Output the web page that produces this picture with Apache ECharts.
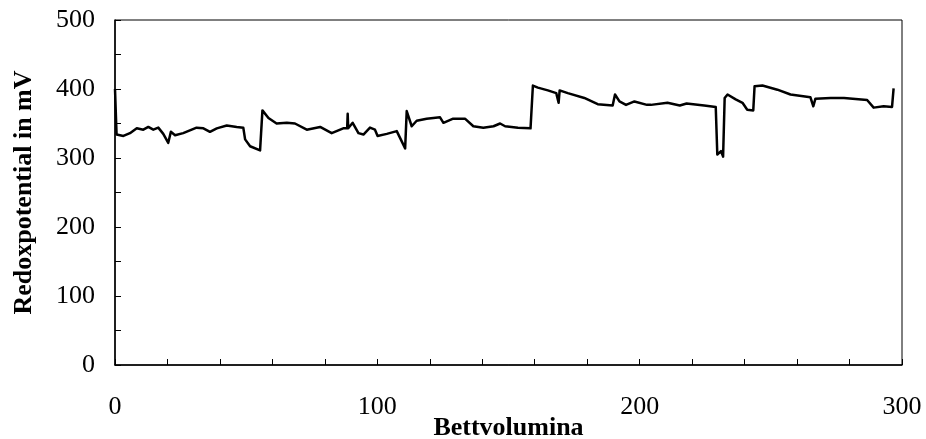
<!DOCTYPE html>
<html>
<head>
<meta charset="utf-8">
<script src="https://cdn.jsdelivr.net/npm/echarts@6/dist/echarts.min.js"></script>
<style>
  html, body { margin: 0; padding: 0; background: #fff; }
  #chart { width: 926px; height: 439px; }
</style>
</head>
<body>
<div id="chart"></div>
<script>
// Bed volumes passed through the column
const bedVolumes = [
  0, 0.6, 3.2, 5.7, 8.3, 10.8, 12.7, 14.6, 16.5, 18.4, 20.3, 21.3, 22.9, 26,
  31.1, 33.7, 36.2, 38.8, 42.6, 46.4, 48.9, 49.6, 51.5, 55.3, 56.2, 58.5, 61.6,
  65.5, 68.6, 73.1, 78.2, 82.6, 87, 88.5, 88.7, 88.9, 90.6, 92.8, 94.7, 97.2,
  99.1, 100.1, 103.6, 107.4, 110.6, 111.2, 113.1, 115, 118.8, 123.9, 125.2,
  128.9, 133.4, 136.6, 140.4, 144.3, 146.8, 148.7, 153.6, 158.4, 159.3, 161.2,
  165, 168.2, 169.1, 169.5, 172.6, 178.9, 184, 189.7, 190.6, 192.3, 194.8,
  198, 202.8, 204.3, 210.6, 215.3, 217.9, 224.6, 229, 229.6, 231, 231.8,
  232.4, 233.5, 236.6, 239.2, 241, 243.3, 243.8, 246.8, 252.5, 257.5, 265.1,
  266.2, 267, 272.8, 277.9, 286.7, 289.2, 293, 296.2, 296.8
];
// Measured redox potential (mV)
const redoxMv = [
  400, 334, 332, 336, 343, 341, 345, 341, 344, 335, 322, 338, 333, 336,
  344, 343, 338, 343, 347, 345, 344, 327, 317, 311, 369, 358, 350,
  351, 350, 341, 345, 336, 343, 343, 364, 343, 351, 336, 334, 344,
  341, 332, 335, 339, 314, 368, 346, 354, 357, 359, 351,
  357, 357, 346, 344, 346, 350, 346, 344, 343, 405, 402,
  398, 394, 380, 398, 394, 387, 378, 376, 392, 382, 377,
  382, 377, 377, 380, 376, 379, 376, 374, 305, 310, 302,
  387, 392, 385, 380, 370, 369, 404, 405, 399, 392, 388,
  375, 386, 387, 387, 384, 373, 375, 374, 401
];
const xTicks = [0, 100, 200, 300];
const yTicks = [0, 100, 200, 300, 400, 500];

const seriesData = bedVolumes.map((v, i) => [v, redoxMv[i]]);
const serif = '"Liberation Serif", "Times New Roman", serif';

const chart = echarts.init(document.getElementById('chart'), null, { renderer: 'canvas' });
chart.setOption({
  animation: false,
  grid: {
    left: 115, right: 24, top: 20, bottom: 74,
    outerBoundsMode: 'none',
    show: true, borderColor: '#000', borderWidth: 1, backgroundColor: 'transparent'
  },
  xAxis: {
    type: 'value',
    min: xTicks[0], max: xTicks[xTicks.length - 1], interval: 100,
    name: 'Bettvolumina', nameLocation: 'middle', nameGap: 50,
    nameMoveOverlap: false,
    nameTextStyle: { fontFamily: serif, fontWeight: 'bold', fontSize: 26, color: '#000' },
    axisLine: { show: true, lineStyle: { color: '#000', width: 1.5 } },
    axisTick: { show: true, inside: true, length: 6, lineStyle: { color: '#000' } },
    minorTick: { show: true, splitNumber: 5, length: 6, lineStyle: { color: '#000' } },
    splitLine: { show: false },
    axisLabel: { fontFamily: serif, fontSize: 26, color: '#000', margin: 29 }
  },
  yAxis: {
    type: 'value',
    min: yTicks[0], max: yTicks[yTicks.length - 1], interval: 100,
    name: 'Redoxpotential in mV', nameLocation: 'middle', nameGap: 78,
    nameMoveOverlap: false,
    nameTextStyle: { fontFamily: serif, fontWeight: 'bold', fontSize: 26, color: '#000' },
    axisLine: { show: true, lineStyle: { color: '#000', width: 1.5 } },
    axisTick: { show: true, inside: true, length: 6, lineStyle: { color: '#000' } },
    minorTick: { show: true, splitNumber: 2, length: 6, lineStyle: { color: '#000' } },
    splitLine: { show: false },
    axisLabel: { fontFamily: serif, fontSize: 26, color: '#000', margin: 20 }
  },
  series: [{
    type: 'line',
    data: seriesData,
    showSymbol: false,
    symbol: 'none',
    lineStyle: { color: '#000', width: 2.5, join: 'round' }
  }]
});
</script>
</body>
</html>
